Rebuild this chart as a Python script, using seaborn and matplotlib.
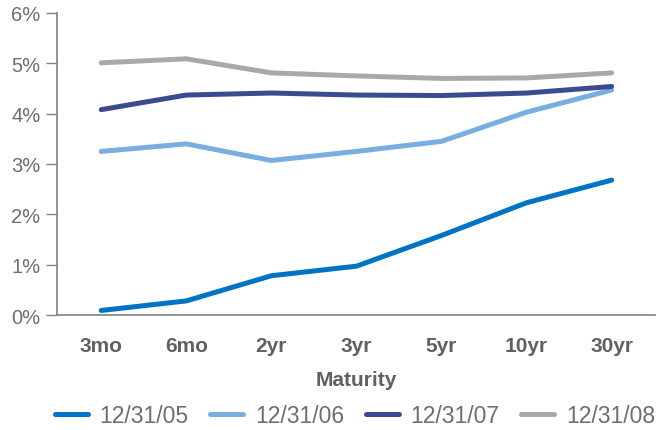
import matplotlib
matplotlib.use("Agg")
import matplotlib.pyplot as plt
import seaborn as sns
import pandas as pd

maturities = ["3mo", "6mo", "2yr", "3yr", "5yr", "10yr", "30yr"]
dates = ["12/31/05", "12/31/06", "12/31/07", "12/31/08"]
y2005 = [0.09, 0.28, 0.78, 0.97, 1.58, 2.23, 2.68]
y2006 = [3.25, 3.40, 3.07, 3.25, 3.45, 4.03, 4.47]
y2007 = [4.08, 4.37, 4.41, 4.37, 4.36, 4.41, 4.54]
y2008 = [5.01, 5.09, 4.81, 4.75, 4.70, 4.71, 4.81]
colors = ["#0073c4", "#79aee0", "#3b4b90", "#a8a9ad"]

rows = []
for d, vals in zip(dates, [y2005, y2006, y2007, y2008]):
    for i, (m, v) in enumerate(zip(maturities, vals)):
        rows.append({"Maturity": m, "pos": i, "Yield": v, "Date": d})
df = pd.DataFrame(rows)

sns.set_theme(style="white")
plt.rcParams["font.family"] = ["Liberation Sans", "DejaVu Sans"]

fig = plt.figure(figsize=(6.67, 4.31), dpi=100)
ax = fig.add_axes([57 / 667, 1 - 316 / 431, 598 / 667, 302 / 431])

sns.lineplot(data=df, x="pos", y="Yield", hue="Date", palette=colors,
             linewidth=3.6, ax=ax, legend=False, solid_capstyle="round")

ax.set_xlim(-0.52, 6.51)
ax.set_ylim(0, 6)
ax.set_yticks(range(0, 7))
ax.set_yticklabels([f"{v}%" for v in range(0, 7)], fontsize=14.5, color="#6d6e71")
ax.set_xticks(range(len(maturities)))
ax.set_xticklabels(maturities, fontsize=15, fontweight="bold", color="#5f6062")
ax.tick_params(axis="x", length=0, pad=14.8)
ax.tick_params(axis="y", length=8, width=1, color="#808080", direction="out",
               left=True, pad=4)
ax.set_xlabel("Maturity", fontsize=15, fontweight="bold", color="#5f6062",
              labelpad=11)
ax.set_ylabel("")
for s in ["top", "right"]:
    ax.spines[s].set_visible(False)
for s in ["left", "bottom"]:
    ax.spines[s].set_color("#808080")
    ax.spines[s].set_linewidth(1.2)
ax.grid(False)

handles = [plt.Line2D([0], [0], color=c, lw=3.6, solid_capstyle="round") for c in colors]
fig.legend(handles, dates, loc="center", bbox_to_anchor=(0.532, 1 - 417 / 431),
           ncol=4, frameon=False, fontsize=16.5, handlelength=1.45, columnspacing=0.95,
           handletextpad=0.5, labelcolor="#6d6e71", borderpad=0)

fig.savefig("out.png", dpi=100)
